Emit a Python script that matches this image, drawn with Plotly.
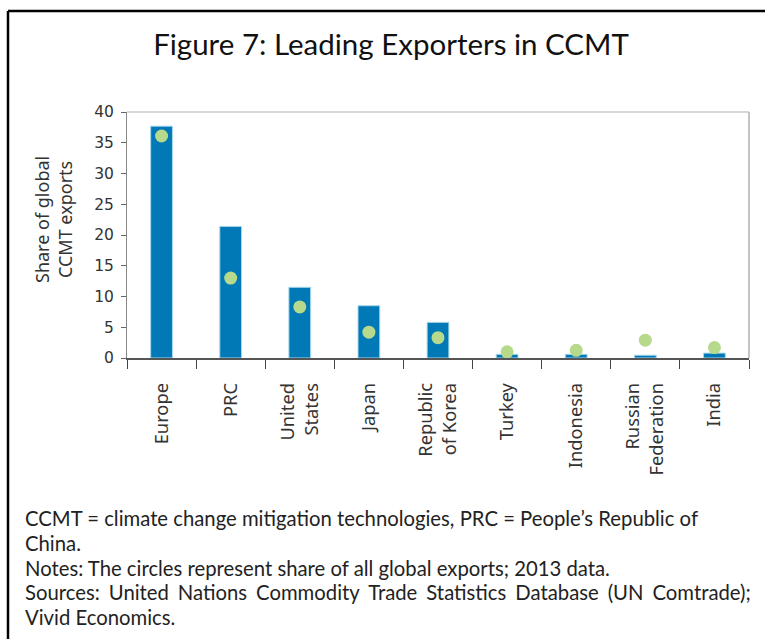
import plotly.graph_objects as go

categories = ["Europe", "PRC", "United<br>States", "Japan", "Republic<br>of Korea",
              "Turkey", "Indonesia", "Russian<br>Federation", "India"]
ccmt_share = [37.7, 21.4, 11.5, 8.5, 5.8, 0.6, 0.6, 0.45, 0.8]
all_exports_share = [36.1, 13.0, 8.3, 4.2, 3.3, 1.0, 1.25, 2.9, 1.7]
y_ticks = [0, 5, 10, 15, 20, 25, 30, 35, 40]

title_text = "Figure 7: Leading Exporters in CCMT"
y_title = "Share of global<br>CCMT exports"
GAP = " \u2009\u200a"
note_lines = [
    "CCMT = climate change mitigation technologies, PRC = People\u2019s Republic of",
    "China.",
    "Notes: The circles represent share of all global exports; 2013 data.",
    ("Sources: United Nations Commodity Trade Statistics Database (UN Comtrade);").replace(" ", GAP),
    "Vivid Economics.",
]

W, H = 765, 639
ML, MR, MT, MB = 127, 16, 112, 281
PW, PH = W - ML - MR, H - MT - MB


def px_x(px):
    return (px - ML) / PW


def px_y(py):
    return (H - MB - py) / PH


TITLE_FONT = "Lato"
AX_FONT = "Noto Sans"
TXT = "#222222"

fig = go.Figure()
fig.add_trace(go.Bar(
    x=categories, y=ccmt_share, width=0.315,
    marker=dict(color="#0079b6", line=dict(color="#a8d8ee", width=1)),
    showlegend=False, hoverinfo="y",
))
fig.add_trace(go.Scatter(
    x=categories, y=all_exports_share, mode="markers",
    marker=dict(color="#b7d98c", size=13, line=dict(width=0)),
    showlegend=False, hoverinfo="y",
))

fig.update_layout(
    width=W, height=H,
    margin=dict(l=ML, r=MR, t=MT, b=MB),
    paper_bgcolor="white", plot_bgcolor="white",
    font=dict(family=AX_FONT, color=TXT),
    title=dict(text=title_text, x=px_x(391), xref="paper", xanchor="center",
               y=1 - 45 / H, yanchor="middle",
               font=dict(family=TITLE_FONT, size=29.5, color="#111111")),
    xaxis=dict(
        type="category", tickangle=-90, tickson="boundaries",
        ticks="outside", ticklen=9, tickcolor="#444444", tickwidth=1.3,
        ticklabelstandoff=16,
        showline=True, linecolor="#555555", linewidth=1.5,
        showgrid=False, zeroline=False,
        tickfont=dict(family=AX_FONT, size=18.3, color="#333333"),
        range=[-0.5, 8.5],
    ),
    yaxis=dict(
        range=[0, 40], tickvals=y_ticks,
        ticks="outside", ticklen=5, tickcolor="#666666",
        ticklabelstandoff=4,
        showline=True, linecolor="#888888", linewidth=1,
        showgrid=False, zeroline=False,
        tickfont=dict(family="DejaVu Sans", size=15.5, color="#333333"),
    ),
)

# y-axis title
fig.add_annotation(text=y_title, textangle=-90, xref="paper", yref="paper",
                   x=px_x(53), y=px_y(220), xanchor="center", yanchor="middle",
                   showarrow=False,
                   font=dict(family=AX_FONT, size=18, color="#333333"))

# top and right plot frame in light gray
fig.add_shape(type="line", xref="x domain", yref="y domain", x0=0, x1=1, y0=1, y1=1,
              line=dict(color="#b0b0b0", width=1.2))
fig.add_shape(type="line", xref="x domain", yref="y domain", x0=1, x1=1, y0=0, y1=1,
              line=dict(color="#b0b0b0", width=1.5))

# outer black frame (top and left edges visible)
fig.add_shape(type="line", xref="paper", yref="paper", x0=px_x(8), x1=px_x(780),
              y0=px_y(11), y1=px_y(11), line=dict(color="black", width=2.5))
fig.add_shape(type="line", xref="paper", yref="paper", x0=px_x(8), x1=px_x(8),
              y0=px_y(11), y1=px_y(660), line=dict(color="black", width=2.5))

# notes
note_y0 = 518
for i, line in enumerate(note_lines):
    ypix = note_y0 + i * 24.8
    fig.add_annotation(text=line, xref="paper", yref="paper",
                       x=px_x(23), y=px_y(ypix),
                       xanchor="left", yanchor="middle", showarrow=False,
                       font=dict(family=TITLE_FONT, size=20.3, color=TXT))

fig.write_html("out.html", config={"displayModeBar": False},
               post_script="document.body.style.margin='0';")
